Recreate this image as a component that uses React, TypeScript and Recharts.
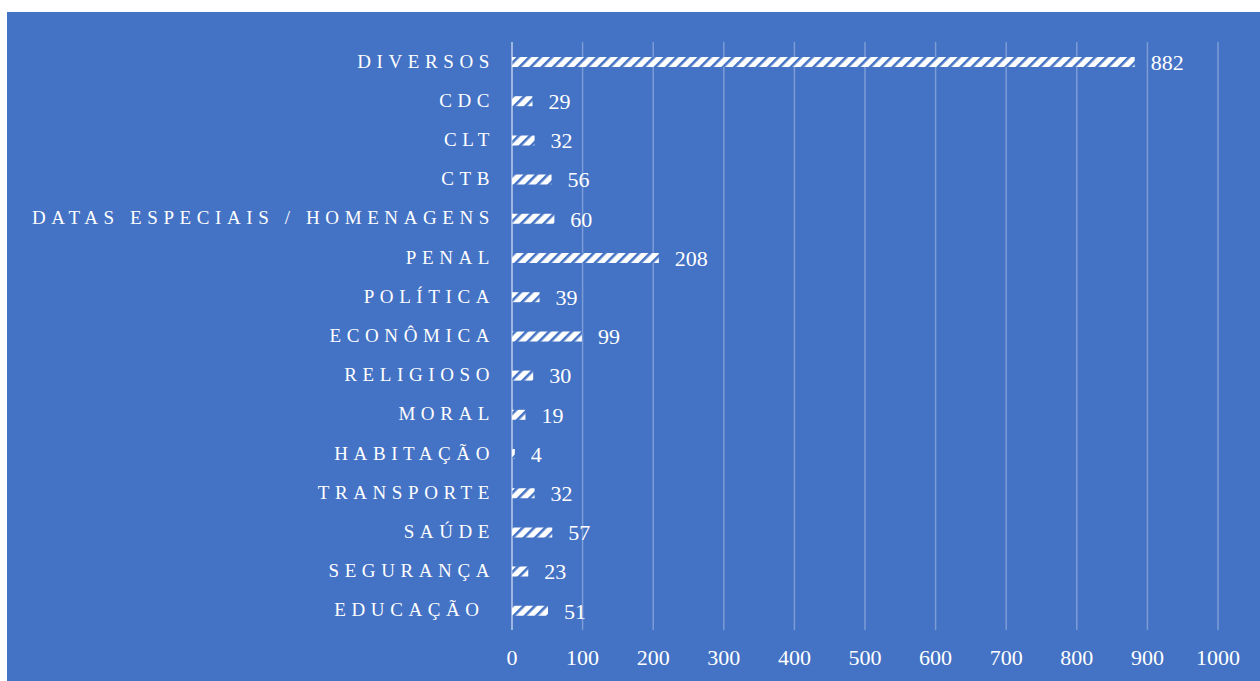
import { BarChart, Bar, XAxis, YAxis, CartesianGrid, LabelList } from 'recharts';

const categories = [
  'DIVERSOS',
  'CDC',
  'CLT',
  'CTB',
  'DATAS ESPECIAIS / HOMENAGENS',
  'PENAL',
  'POLÍTICA',
  'ECONÔMICA',
  'RELIGIOSO',
  'MORAL',
  'HABITAÇÃO',
  'TRANSPORTE',
  'SAÚDE',
  'SEGURANÇA',
  'EDUCAÇÃO ',
];
const counts = [882, 29, 32, 56, 60, 208, 39, 99, 30, 19, 4, 32, 57, 23, 51];
const xTicks = [0, 100, 200, 300, 400, 500, 600, 700, 800, 900, 1000];

const chartData = categories.map((name, i) => ({ name, value: counts[i] }));

const BG = '#4472C4';
const FONT = '"Liberation Serif", "Times New Roman", serif';

// category labels are letter-spaced and right-aligned
const CategoryTick = (props: any) => {
  const { x, y, payload } = props;
  return (
    <text
      x={x}
      y={y}
      dy={6}
      textAnchor="end"
      fill="#ffffff"
      fontFamily={FONT}
      fontSize={19}
      style={{ letterSpacing: '5.6px', whiteSpace: 'pre' }}
    >
      {payload.value}
    </text>
  );
};

const App = () => {
  return (
    <div
      style={{
        position: 'absolute',
        left: 7,
        top: 12,
        width: 1253,
        height: 669,
        background: BG,
      }}
    >
      <BarChart
        width={1253}
        height={669}
        data={chartData}
        layout="vertical"
        margin={{ top: 30, right: 42, left: 0, bottom: 21 }}
        barCategoryGap={0}
      >
        <defs>
          <pattern id="hatch" width="8" height="8" patternUnits="userSpaceOnUse" patternTransform="rotate(45)">
            <rect width="8" height="8" fill="#ffffff" />
            <rect width="2.6" height="8" fill={BG} />
          </pattern>
        </defs>
        <CartesianGrid horizontal={false} stroke="rgba(255,255,255,0.3)" strokeWidth={1.5} />
        <XAxis
          type="number"
          domain={[0, 1000]}
          ticks={xTicks}
          axisLine={false}
          tickLine={false}
          tick={{ fill: '#ffffff', fontSize: 22, fontFamily: FONT }}
          tickMargin={13}
          interval={0}
        />
        <YAxis
          type="category"
          dataKey="name"
          width={505}
          axisLine={{ stroke: 'rgba(255,255,255,0.45)', strokeWidth: 1.5 }}
          tickLine={false}
          tick={<CategoryTick />}
          tickMargin={11}
          interval={0}
        />
        <Bar dataKey="value" fill="url(#hatch)" barSize={10} isAnimationActive={false}>
          <LabelList
            dataKey="value"
            position="right"
            offset={16}
            fill="#ffffff"
            fontSize={22}
            fontFamily={FONT}
          />
        </Bar>
      </BarChart>
    </div>
  );
};

export default App;
